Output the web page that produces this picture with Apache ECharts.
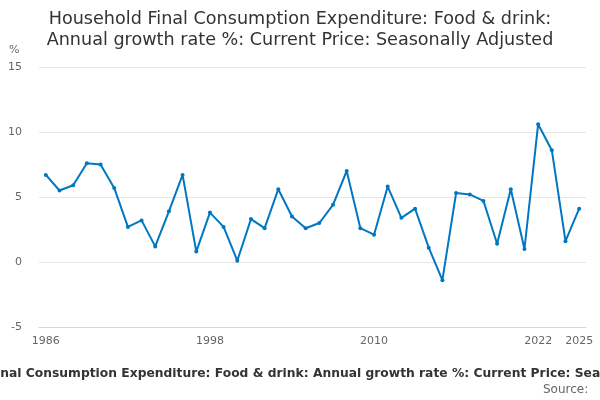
<!DOCTYPE html>
<html>
<head>
<meta charset="utf-8">
<script src="https://cdn.jsdelivr.net/npm/echarts@6/dist/echarts.min.js"></script>
<style>
  html, body { margin: 0; padding: 0; background: #fff; }
  #chart { width: 600px; height: 400px; }
</style>
</head>
<body>
<div id="chart"></div>
<script>
// annual growth rate %
var years = ['1986', '1987', '1988', '1989', '1990', '1991', '1992', '1993', '1994', '1995',
  '1996', '1997', '1998', '1999', '2000', '2001', '2002', '2003', '2004', '2005',
  '2006', '2007', '2008', '2009', '2010', '2011', '2012', '2013', '2014', '2015',
  '2016', '2017', '2018', '2019', '2020', '2021', '2022', '2023', '2024', '2025']
var growth = [6.7, 5.5, 5.9, 7.6, 7.5, 5.7, 2.7, 3.2, 1.2, 3.9,
  6.7, 0.8, 3.8, 2.7, 0.1, 3.3, 2.6, 5.6, 3.5, 2.6,
  3.0, 4.4, 7.0, 2.6, 2.1, 5.8, 3.4, 4.1, 1.1, -1.4,
  5.3, 5.2, 4.7, 1.4, 5.6, 1.0, 10.6, 8.6, 1.6, 4.1]
var labelYears = ['1986', '1998', '2010', '2022', '2025']

var titleText = 'Household Final Consumption Expenditure: Food & drink: Annual growth rate %: Current Price: Seasonally Adjusted'
var font = 'DejaVu Sans'

var chart = echarts.init(document.getElementById('chart'))
chart.setOption({
  animation: false,
  textStyle: { fontFamily: font },
  title: {
    text: 'Household Final Consumption Expenditure: Food & drink:\nAnnual growth rate %: Current Price: Seasonally Adjusted',
    left: 'center',
    top: 4,
    textStyle: { fontFamily: font, fontSize: 17.6, fontWeight: 'normal', color: '#333', lineHeight: 21 }
  },
  graphic: [
    { type: 'text', left: 9, top: 45, style: { text: '%', fontFamily: font, fontSize: 11, fill: '#666' } },
    // the long bottom caption overflows the canvas on both sides, as in the original
    { type: 'text', x: -90, y: 374, style: { text: titleText, fontFamily: font, fontSize: 12.3, fontWeight: 'bold', fill: '#333', align: 'left', verticalAlign: 'middle' } },
    { type: 'text', x: 592, y: 390, style: { text: 'Source: ', fontFamily: font, fontSize: 12, fill: '#666', align: 'right', verticalAlign: 'middle' } }
  ],
  grid: { left: 39, right: 14, top: 67, bottom: 73 },
  xAxis: {
    type: 'category',
    data: years,
    boundaryGap: true,
    axisLine: { onZero: false, lineStyle: { color: '#ccd6eb' } },
    axisTick: {
      alignWithLabel: true,
      length: 10,
      lineStyle: { color: '#ccd6eb' },
      interval: function (i, v) { return i % 3 === 0 || v === '2025' }
    },
    axisLabel: {
      color: '#666',
      fontSize: 11,
      margin: 9,
      interval: function (i, v) { return labelYears.indexOf(v) >= 0 }
    }
  },
  yAxis: {
    type: 'value',
    min: -5,
    max: 15,
    interval: 5,
    axisLine: { show: false },
    axisTick: { show: false },
    splitLine: { lineStyle: { color: '#e6e6e6' } },
    axisLabel: { color: '#666', fontSize: 11, margin: 17 }
  },
  series: [{
    type: 'line',
    data: growth,
    symbol: 'circle',
    symbolSize: 4,
    lineStyle: { color: '#0077c2', width: 2 },
    itemStyle: { color: '#0077c2' }
  }]
})
</script>
</body>
</html>
